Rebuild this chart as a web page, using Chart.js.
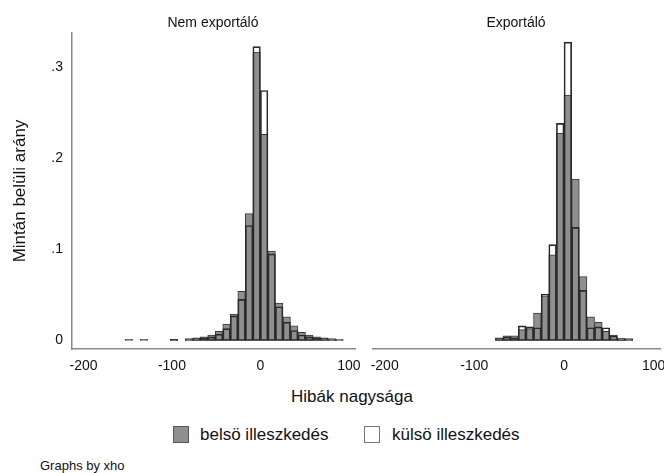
<!DOCTYPE html>
<html>
<head>
<meta charset="utf-8">
<title>Hibák nagysága</title>
<script src="https://cdn.jsdelivr.net/npm/chart.js@4"></script>
<style>
    body { margin: 0; background: #fff; font-family: "Liberation Sans", Arial, sans-serif; color: #111; }
    #wrap { position: relative; width: 664px; height: 473px; overflow: hidden; }
    canvas { position: absolute; top: 0; }
    .txt { position: absolute; white-space: nowrap; }
    .box { position: absolute; width: 16px; height: 17px; box-sizing: border-box; }
</style>
</head>
<body>
<div id="wrap">
    <canvas id="chartNem" width="372" height="385" style="left:0px"></canvas>
    <canvas id="chartExp" width="312" height="385" style="left:352px"></canvas>

    <div class="txt" id="titleNem" style="left:113px; width:200px; top:14px; font-size:14px; line-height:16px; text-align:center;"></div>
    <div class="txt" id="titleExp" style="left:416px; width:200px; top:14px; font-size:14px; line-height:16px; text-align:center;"></div>

    <div class="txt" id="xTitle" style="left:252px; width:200px; top:387px; font-size:17px; line-height:20px; text-align:center;"></div>

    <div class="box" style="left:173px; top:426px; background:#8f8f8f; border:1px solid #555;"></div>
    <div class="txt" id="legBelso" style="left:200px; top:425px; font-size:17px; line-height:20px;"></div>
    <div class="box" style="left:364px; top:426px; background:#fff; border:1px solid #777;"></div>
    <div class="txt" id="legKulso" style="left:392px; top:425px; font-size:17px; line-height:20px;"></div>

    <div class="txt" style="left:40px; top:458px; font-size:13px; line-height:16px;">Graphs by xho</div>
</div>

<script>
// ================= DATA =================
const panelNames = ["Nem exportáló", "Exportáló"];
const seriesNames = ["belsö illeszkedés", "külsö illeszkedés"];
const xTicks = [-200, -100, 0, 100];
const yTicks = [0, 0.1, 0.2, 0.3];

// bin centres (bin width 8.5)
const binsNem = [-148.75, -131.75, -97.75, -80.75, -72.25, -63.75, -55.25, -46.75, -38.25, -29.75,
    -21.25, -12.75, -4.25, 4.25, 12.75, 21.25, 29.75, 38.25, 46.75, 55.25, 63.75, 72.25, 80.75, 89.25];
const belsoNem = [0.0012, 0.0012, 0.0012, 0.002, 0.003, 0.004, 0.006, 0.010, 0.018, 0.029,
    0.054, 0.139, 0.316, 0.226, 0.098, 0.041, 0.026, 0.016, 0.009, 0.006, 0.004, 0.003, 0.002, 0.001];
const kulsoNem = [null, null, 0.0012, 0.001, 0.002, 0.003, 0.004, 0.007, 0.013, 0.027,
    0.045, 0.126, 0.322, 0.274, 0.095, 0.037, 0.020, 0.011, 0.006, 0.004, 0.003, 0.002, 0.001, 0.001];

const binsExp = [-72.25, -63.75, -55.25, -46.75, -38.25, -29.75, -21.25, -12.75, -4.25,
    4.25, 12.75, 21.25, 29.75, 38.25, 46.75, 55.25, 63.75, 72.25];
const belsoExp = [0.003, 0.005, 0.005, 0.012, 0.013, 0.030, 0.049, 0.094, 0.227,
    0.269, 0.177, 0.070, 0.026, 0.020, 0.010, 0.006, 0.002, 0.002];
const kulsoExp = [0.002, 0.004, 0.003, 0.016, 0.015, 0.014, 0.051, 0.105, 0.238,
    0.327, 0.124, 0.055, 0.014, 0.015, 0.014, 0.005, 0.002, 0.001];

// ================= TEXT =================
document.getElementById("titleNem").innerText = panelNames[0];
document.getElementById("titleExp").innerText = panelNames[1];
document.getElementById("xTitle").innerText = "Hibák nagysága";
document.getElementById("legBelso").innerText = seriesNames[0];
document.getElementById("legKulso").innerText = seriesNames[1];

// ================= CHARTS =================
function toPoints(bins, values) {
    return bins.map((x, i) => ({ x: x, y: values[i] }));
}

function makePanel(canvasId, bins, belso, kulso, showY) {
    let axisBorder = { display: true, color: "#8a8a8a", width: 1.5 };

    new Chart(document.getElementById(canvasId), {
        type: "bar",
        data: {
            datasets: [{
                label: seriesNames[1],
                data: toPoints(bins, kulso),
                backgroundColor: "rgba(255,255,255,0)",
                borderColor: "#2a2a2a",
                order: 0
            }, {
                label: seriesNames[0],
                data: toPoints(bins, belso),
                backgroundColor: "#8f8f8f",
                borderColor: "#3a3a3a",
                order: 1
            }]
        },
        options: {
            responsive: false,
            animation: false,
            devicePixelRatio: 1,
            layout: { padding: showY ? { top: 33, right: 17 } : { top: 33, left: 21, right: 4 } },
            datasets: {
                bar: {
                    grouped: false,
                    barPercentage: 1,
                    categoryPercentage: 1,
                    borderWidth: 1,
                    borderSkipped: false
                }
            },
            plugins: { legend: { display: false }, tooltip: { enabled: false } },
            scales: {
                x: {
                    type: "linear",
                    min: -213,
                    max: 107,
                    offset: false,
                    afterBuildTicks: s => { s.ticks = xTicks.map(v => ({ value: v })); },
                    afterFit: s => {
                        s.height = 36;
                        s.paddingLeft = 0;
                        s.paddingRight = 0;
                    },
                    grid: { display: false, drawTicks: false },
                    border: axisBorder,
                    ticks: {
                        padding: 9,
                        maxRotation: 0,
                        color: "#111",
                        font: { family: "Liberation Sans", size: 14 },
                        callback: v => String(v)
                    }
                },
                y: {
                    display: showY,
                    min: -0.0093,
                    max: 0.337,
                    afterBuildTicks: s => { s.ticks = yTicks.map(v => ({ value: v })); },
                    afterFit: s => { s.width = showY ? 72 : 0; },
                    grid: { display: false, drawTicks: false },
                    border: axisBorder,
                    title: {
                        display: true,
                        text: "Mintán belüli arány",
                        color: "#111",
                        padding: { top: 10, bottom: 0 },
                        font: { family: "Liberation Sans", size: 17 }
                    },
                    ticks: {
                        padding: 9,
                        color: "#111",
                        font: { family: "Liberation Sans", size: 14 },
                        callback: v => v === 0 ? "0" : String(v).replace(/^0/, "")
                    }
                }
            }
        }
    });
}

makePanel("chartNem", binsNem, belsoNem, kulsoNem, true);
makePanel("chartExp", binsExp, belsoExp, kulsoExp, false);
</script>
</body>
</html>
